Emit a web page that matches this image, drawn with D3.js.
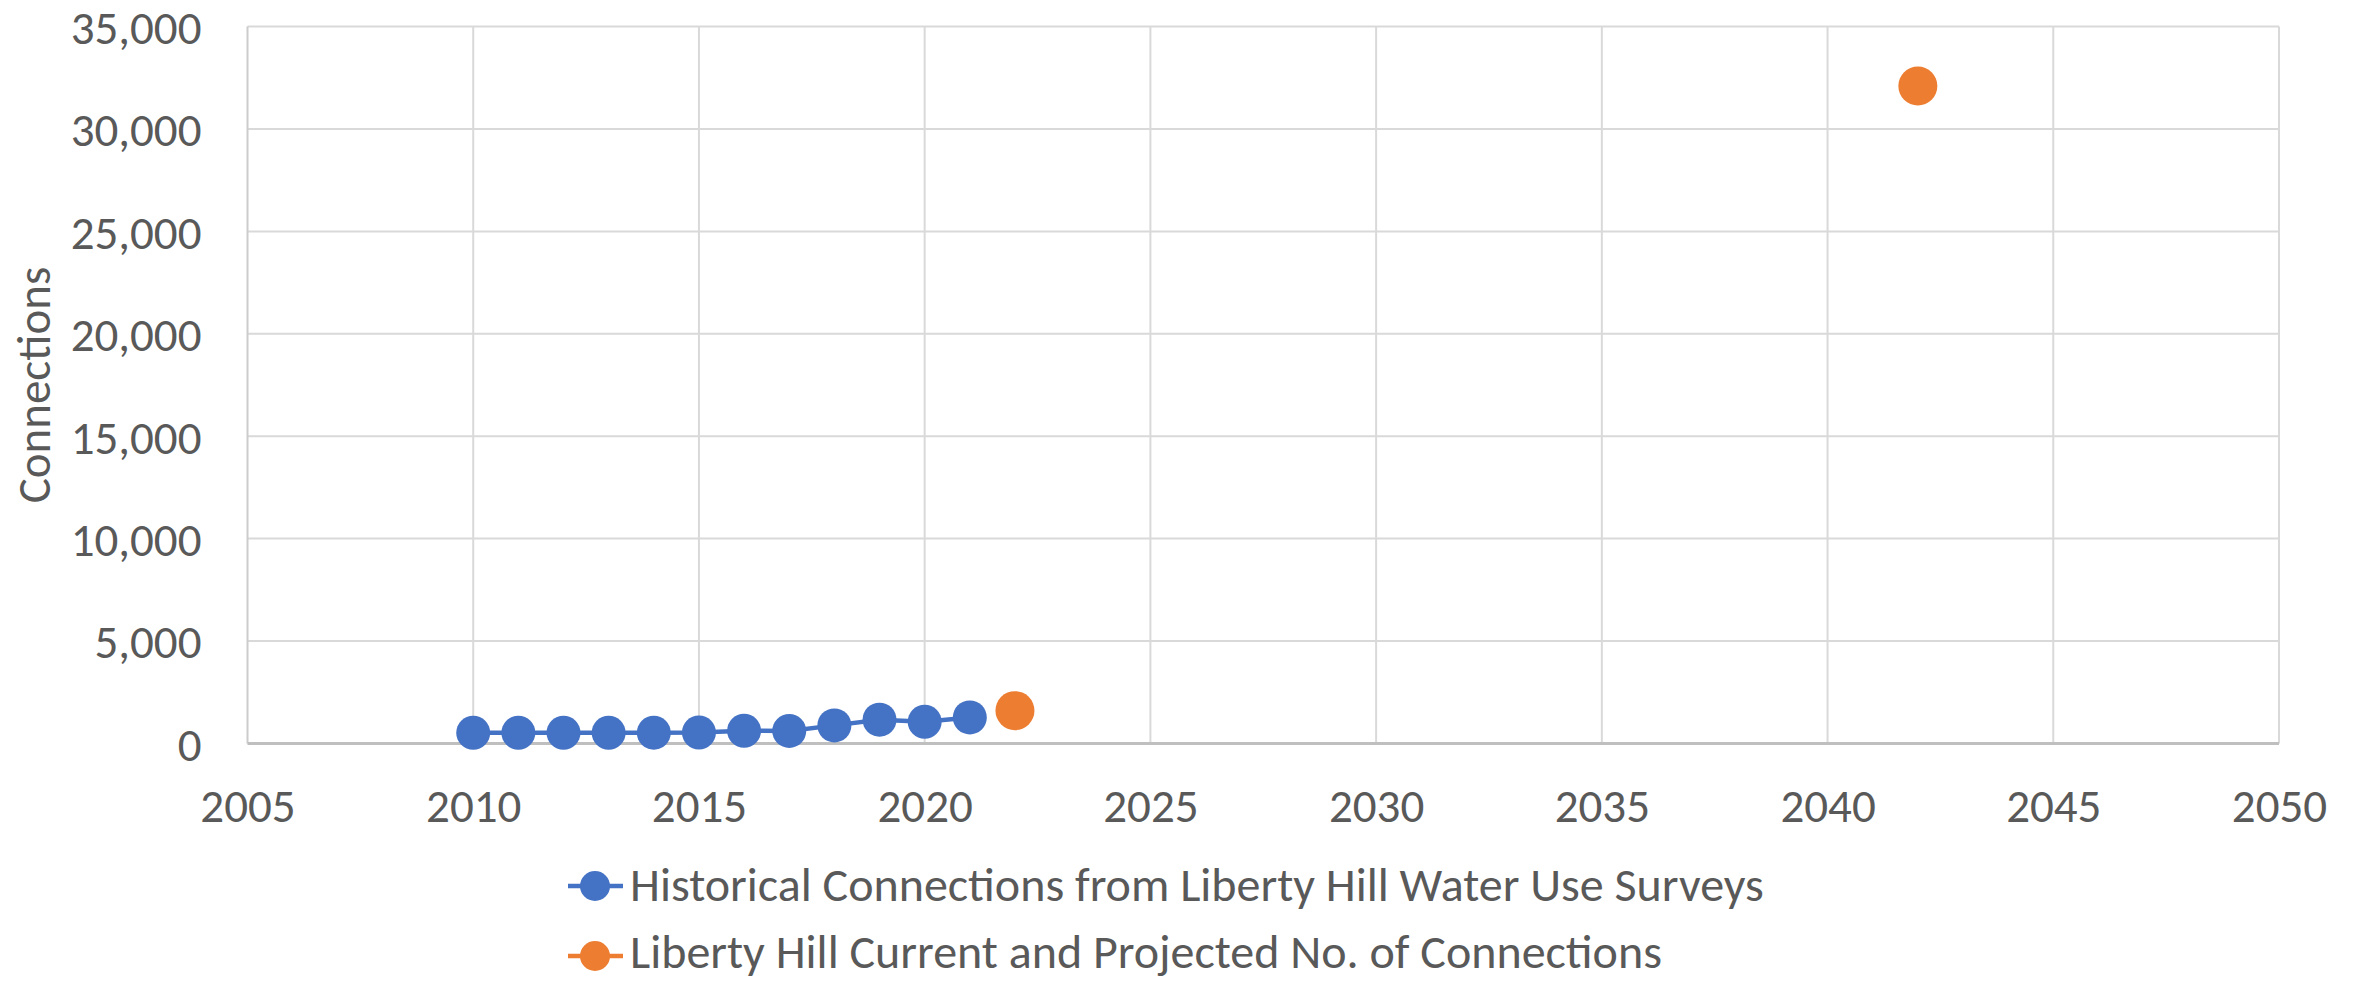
<!DOCTYPE html>
<html>
<head>
<meta charset="utf-8">
<script src="https://cdn.jsdelivr.net/npm/d3@7"></script>
<style>
  html, body { margin: 0; padding: 0; background: #fff; }
  svg { display: block; }
  text { font-family: Carlito, Lato, "Liberation Sans Narrow", sans-serif; fill: #595959; }
</style>
</head>
<body>
<svg id="chart" width="2356" height="983"></svg>
<script>
// ---- data ----
const histYears = [2010, 2011, 2012, 2013, 2014, 2015, 2016, 2017, 2018, 2019, 2020, 2021];
const histConnections = [520, 520, 520, 520, 525, 530, 620, 610, 880, 1160, 1060, 1270];
const projYears = [2022, 2042];
const projConnections = [1600, 32100];
const xTicks = [2005, 2010, 2015, 2020, 2025, 2030, 2035, 2040, 2045, 2050];
const yTicks = [0, 5000, 10000, 15000, 20000, 25000, 30000, 35000];
const seriesNames = [
  "Historical Connections from Liberty Hill Water Use Surveys",
  "Liberty Hill Current and Projected No. of Connections"
];
const seriesColors = ["#4472C4", "#ED7D31"];

// ---- layout ----
const W = 2356, H = 983;
const FS = "47px";
const LFS = "48px";
const plot = { left: 247.5, right: 2279, top: 26.6, bottom: 743.4 };
const svg = d3.select("#chart");

const x = d3.scaleLinear().domain([2005, 2050]).range([plot.left, plot.right]);
const y = d3.scaleLinear().domain([0, 35000]).range([plot.bottom, plot.top]);

// gridlines
svg.append("g")
  .selectAll("line").data(yTicks.filter(d => d > 0)).join("line")
  .attr("x1", plot.left).attr("x2", plot.right)
  .attr("y1", d => y(d)).attr("y2", d => y(d))
  .attr("stroke", "#D9D9D9").attr("stroke-width", 2);
svg.append("g")
  .selectAll("line").data(xTicks.filter(d => d > 2005)).join("line")
  .attr("x1", d => x(d)).attr("x2", d => x(d))
  .attr("y1", plot.top).attr("y2", plot.bottom)
  .attr("stroke", "#D9D9D9").attr("stroke-width", 2);

// axis lines
svg.append("line")
  .attr("x1", plot.left).attr("x2", plot.left)
  .attr("y1", plot.top).attr("y2", plot.bottom)
  .attr("stroke", "#CCCCCC").attr("stroke-width", 2);
svg.append("line")
  .attr("x1", plot.left).attr("x2", plot.right)
  .attr("y1", plot.bottom).attr("y2", plot.bottom)
  .attr("stroke", "#BFBFBF").attr("stroke-width", 3);

// y tick labels via axis
const yAxis = d3.axisLeft(y).tickValues(yTicks).tickSize(0).tickPadding(0)
  .tickFormat(d3.format(","));
const gy = svg.append("g").attr("transform", `translate(${plot.left - 46},0)`).call(yAxis);
gy.select(".domain").remove();
gy.selectAll("text").style("font-size", FS).attr("fill", "#595959")
  .attr("dy", "0.36em").style("font-family", "Carlito, Lato, sans-serif");

// x tick labels via axis
const xAxis = d3.axisBottom(x).tickValues(xTicks).tickSize(0).tickPadding(0)
  .tickFormat(d3.format("d"));
const gx = svg.append("g").attr("transform", `translate(0,${805})`).call(xAxis);
gx.select(".domain").remove();
gx.selectAll("text").style("font-size", FS).attr("fill", "#595959")
  .attr("dy", "0.36em").attr("y", 0).style("font-family", "Carlito, Lato, sans-serif");

// y axis title
svg.append("text")
  .attr("transform", `translate(33,${(plot.top + plot.bottom) / 2}) rotate(-90)`)
  .attr("text-anchor", "middle").attr("dy", "0.36em")
  .style("font-size", FS)
  .text("Connections");

// historical series
const hist = histYears.map((yr, i) => ({ yr, v: histConnections[i] }));
svg.append("path").datum(hist)
  .attr("fill", "none").attr("stroke", seriesColors[0]).attr("stroke-width", 4.5)
  .attr("d", d3.line().x(d => x(d.yr)).y(d => y(d.v)));
svg.append("g").selectAll("circle").data(hist).join("circle")
  .attr("cx", d => x(d.yr)).attr("cy", d => y(d.v)).attr("r", 17)
  .attr("fill", seriesColors[0]);

// projected series (markers only)
const proj = projYears.map((yr, i) => ({ yr, v: projConnections[i] }));
svg.append("g").selectAll("circle").data(proj).join("circle")
  .attr("cx", d => x(d.yr)).attr("cy", d => y(d.v)).attr("r", 19.5)
  .attr("fill", seriesColors[1]);

// legend
const legendMarkY = [886, 956];
const legendBase = [901, 968];
const lg = svg.append("g");
seriesNames.forEach((name, i) => {
  const ly = legendMarkY[i];
  lg.append("line").attr("x1", 568).attr("x2", 623).attr("y1", ly).attr("y2", ly)
    .attr("stroke", seriesColors[i]).attr("stroke-width", 4.5);
  lg.append("circle").attr("cx", 595).attr("cy", ly).attr("r", 15).attr("fill", seriesColors[i]);
  lg.append("text").attr("x", 630).attr("y", legendBase[i])
    .style("font-size", LFS).text(name);
});
</script>
</body>
</html>
